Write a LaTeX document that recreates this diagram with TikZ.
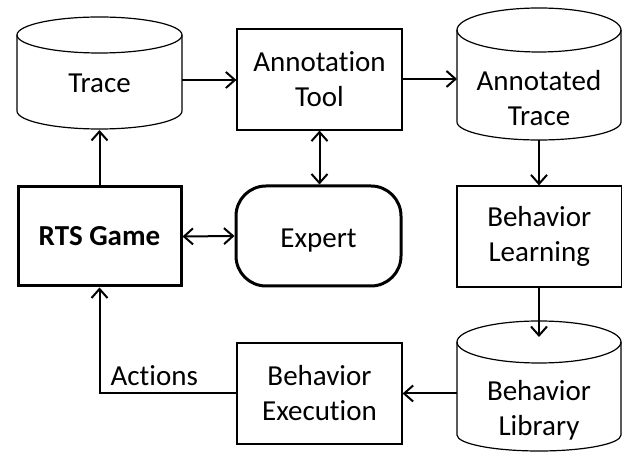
\documentclass[tikz,border=0pt]{standalone}
\usepackage{fontspec}
\setmainfont{Carlito}[Ligatures=NoCommon]
\usetikzlibrary{arrows.meta}
\begin{document}
\begin{tikzpicture}[x=1pt,y=1pt,
  txt/.style={font=\fontsize{29}{35}\selectfont, align=center, inner sep=0pt},
  procbox/.style={draw, line width=1.2pt, minimum width=165pt, minimum height=101pt, txt},
  thickbox/.style={draw, line width=3pt, minimum width=163pt, minimum height=99pt, txt},
  cyl/.style={line width=1.2pt},
  conn/.style={line width=2pt, -{Straight Barb[length=9pt,width=16pt,line width=2pt]}},
  biconn/.style={line width=2pt, {Straight Barb[length=9pt,width=16pt,line width=2pt]}-{Straight Barb[length=9pt,width=16pt,line width=2pt]}}
]
\useasboundingbox (0,0) rectangle (622,452);

% Trace cylinder
\draw[cyl] (17,417) -- (17,341) arc[start angle=180, end angle=360, x radius=82.5pt, y radius=18pt] -- (182,417);
\draw[cyl] (99.5,417) ellipse [x radius=82.5pt, y radius=18pt];
\node[txt] (trace) at (99.5,369) {Trace};
\coordinate (trace-e) at (182,372);
\coordinate (trace-s) at (99.5,322);

% Annotated Trace cylinder
\draw[cyl] (457,422) -- (457,330) arc[start angle=180, end angle=360, x radius=82pt, y radius=18pt] -- (621,422);
\draw[cyl] (539,422) ellipse [x radius=82pt, y radius=22pt];
\node[txt] (atrace) at (539,354) {Annotated\\Trace};
\coordinate (atrace-w) at (457,373);
\coordinate (atrace-s) at (539,312);

% Behavior Library cylinder
\draw[cyl] (457,110) -- (457,17) arc[start angle=180, end angle=360, x radius=82pt, y radius=16pt] -- (621,110);
\draw[cyl] (539,110) ellipse [x radius=82pt, y radius=21pt];
\node[txt] (blib) at (539,42) {Behavior\\Library};
\coordinate (blib-w) at (457,58.5);
\coordinate (blib-in) at (539,115);

% Boxes
\node[procbox] (annot) at (319.5,372.5) {Annotation\\Tool};
\node[thickbox] (rts) at (99.5,215.5) {\bfseries RTS Game};
\node[thickbox, rounded corners=30pt, minimum width=165pt, minimum height=100pt,
      label={[txt, yshift=-5pt]center:Expert}] (expert) at (318.5,216) {};
\node[procbox, minimum width=164.5pt] (blearn) at (539.25,215.5) {Behavior\\Learning};
\node[procbox] (bexec) at (319.5,58.5) {Behavior\\Execution};

% Connectors
\draw[conn] (trace-e) -- (annot.west |- trace-e);
\draw[conn] (annot.east |- atrace-w) -- (atrace-w);
\draw[conn] (atrace-s) -- (blearn.north -| atrace-s);
\draw[conn] (blearn.south -| blib-in) -- (blib-in);
\draw[conn] (blib-w) -- (bexec.east);
\draw[conn] (bexec.west) -| (rts.south) node[txt, pos=0.3, above=7pt] (actions) {Actions};
\draw[conn] (rts.north) -- (trace-s);
\draw[biconn] (annot.south) -- (annot.south |- expert.north);
\draw[biconn] (rts.east) -- (expert.west);
\end{tikzpicture}
\end{document}
